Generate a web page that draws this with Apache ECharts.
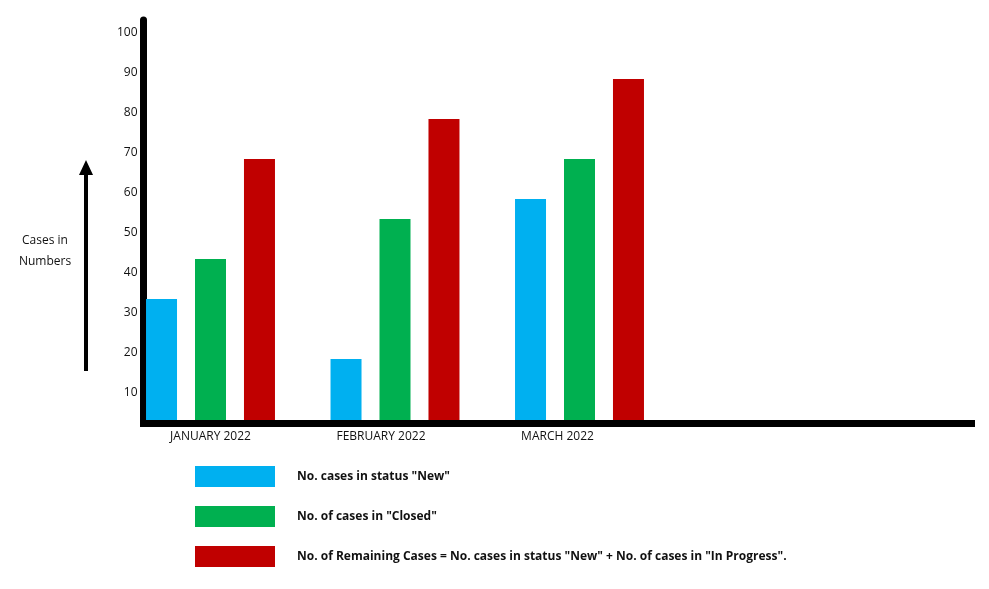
<!DOCTYPE html>
<html>
<head>
    <meta charset="utf-8">
    <script src="https://cdn.jsdelivr.net/npm/echarts@6/dist/echarts.min.js"></script>
    <style>
        html, body { margin: 0; padding: 0; background: #fff; }
    </style>
</head>
<body>
    <div id="main" style="width: 989px;height:589px;"></div>
    <script type="text/javascript">
        // data
        var months = ['JANUARY 2022', 'FEBRUARY 2022', 'MARCH 2022'];
        var newCases = [33, 18, 58];
        var closedCases = [43, 53, 68];
        var remainingCases = [68, 78, 88];
        var yTicks = [10, 20, 30, 40, 50, 60, 70, 80, 90, 100];
        var seriesNames = [
            'No. cases in status "New"',
            'No. of cases in "Closed"',
            'No. of Remaining Cases = No. cases in status "New" + No. of cases in "In Progress".'
        ];

        var font = '"Open Sans", sans-serif';
        // axis starts a bit above zero (bars sit on the thick line)
        var yMin = 2.75, yMax = 102.75;

        var myChart = echarts.init(document.getElementById('main'));

        // month labels in the picture sit a little left of their bar groups
        var labelStyle = { color: '#111', fontSize: 12, fontFamily: font };
        var monthRich = {
            m0: Object.assign({ padding: [0, 0, 0, 0] }, labelStyle),
            m1: Object.assign({ padding: [0, 28, 0, 0] }, labelStyle),
            m2: Object.assign({ padding: [0, 44, 0, 0] }, labelStyle)
        };

        var option = {
            animation: false,
            color: ['#00B0F0', '#00B050', '#C00000'],
            grid: [
                // grid 0: the thick axes and the tick labels
                { left: 143.5, right: 17.5, top: 20, bottom: 169 },
                // grid 1: the bars
                { left: 118.25, width: 553.5, top: 20, bottom: 169 }
            ],
            xAxis: [
                {
                    gridIndex: 0, type: 'value', min: 0, max: 1, offset: 3.5,
                    axisLine: { show: true, lineStyle: { color: '#000', width: 7, cap: 'square' } },
                    axisTick: { show: false }, axisLabel: { show: false }, splitLine: { show: false }
                },
                {
                    gridIndex: 1, type: 'category', data: months,
                    axisLine: { show: false }, axisTick: { show: false },
                    axisLabel: {
                        margin: 11, color: '#111', fontSize: 12, fontFamily: font,
                        formatter: function (v, i) { return '{m' + i + '|' + v + '}'; },
                        rich: monthRich
                    }
                }
            ],
            yAxis: [
                {
                    gridIndex: 0, type: 'value', min: yMin, max: yMax,
                    axisLine: { show: true, lineStyle: { color: '#000', width: 7 } },
                    axisTick: { show: false }, splitLine: { show: false },
                    axisLabel: {
                        customValues: yTicks, margin: 6, color: '#111', fontSize: 12, fontFamily: font,
                        formatter: function (v) { return '{t|' + v + '}'; },
                        rich: { t: Object.assign({ padding: [4, 0, 0, 0] }, labelStyle) }
                    }
                },
                {
                    gridIndex: 1, type: 'value', min: yMin, max: yMax, show: false,
                    splitLine: { show: false }
                }
            ],
            legend: {
                orient: 'vertical',
                left: 195,
                top: 466,
                padding: 0,
                itemWidth: 80,
                itemHeight: 21,
                itemGap: 19,
                icon: 'rect',
                selectedMode: false,
                data: seriesNames,
                textStyle: {
                    color: '#111', fontSize: 12, fontWeight: 'bold', fontFamily: font,
                    padding: [0, 0, 0, 17]
                }
            },
            graphic: [
                {
                    type: 'text', left: 17, top: 230,
                    style: {
                        text: 'Cases in\nNumbers', fill: '#111', font: '12px ' + font,
                        textAlign: 'center', lineHeight: 21, width: 56
                    }
                },
                {
                    type: 'line',
                    shape: { x1: 86, y1: 371, x2: 86, y2: 172 },
                    style: { stroke: '#000', lineWidth: 4 }
                },
                {
                    type: 'polygon',
                    shape: { points: [[86, 160], [79, 175], [93, 175]] },
                    style: { fill: '#000' }
                }
            ],
            series: [
                { name: seriesNames[0], type: 'bar', xAxisIndex: 1, yAxisIndex: 1, data: newCases, barWidth: 31, barGap: '58%' },
                { name: seriesNames[1], type: 'bar', xAxisIndex: 1, yAxisIndex: 1, data: closedCases, barWidth: 31, barGap: '58%' },
                { name: seriesNames[2], type: 'bar', xAxisIndex: 1, yAxisIndex: 1, data: remainingCases, barWidth: 31, barGap: '58%' }
            ]
        };

        myChart.setOption(option);
    </script>
</body>
</html>
